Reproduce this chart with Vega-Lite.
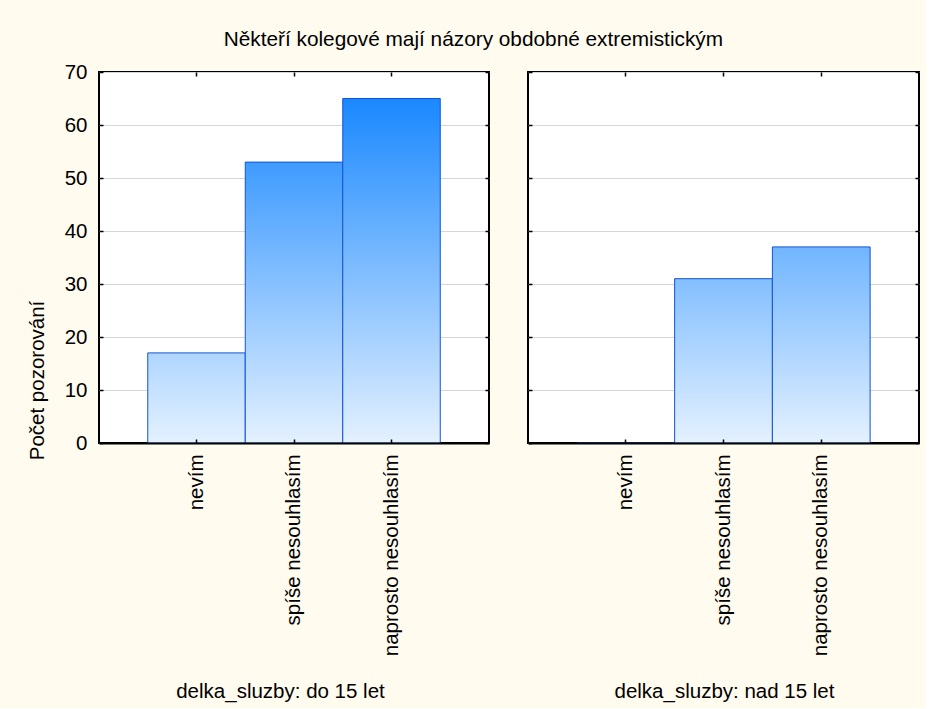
{
  "$schema": "https://vega.github.io/schema/vega-lite/v6.json",
  "padding": {"left": 26, "top": 29, "right": 5, "bottom": 5},
  "title": {"text": "Někteří kolegové mají názory obdobné extremistickým", "fontSize": 20.8, "font": "Liberation Sans", "fontWeight": "normal", "color": "#000", "anchor": "middle", "offset": 10},
  "data": {"values": [
    {"delka": "do 15 let", "kategorie": "nevím", "pocet": 17},
    {"delka": "do 15 let", "kategorie": "spíše nesouhlasím", "pocet": 53},
    {"delka": "do 15 let", "kategorie": "naprosto nesouhlasím", "pocet": 65},
    {"delka": "nad 15 let", "kategorie": "nevím", "pocet": 0},
    {"delka": "nad 15 let", "kategorie": "spíše nesouhlasím", "pocet": 31},
    {"delka": "nad 15 let", "kategorie": "naprosto nesouhlasím", "pocet": 37}
  ]},
  "spacing": 35,
  "hconcat": [
    {
      "width": 390, "height": 371,
      "transform": [{"filter": "datum.delka == 'do 15 let'"}],
      "layer": [
        {
          "transform": [{"filter": "datum.kategorie == 'nevím'"}],
          "mark": {"type": "bar", "stroke": "#1254d4", "strokeWidth": 1, "fill": {"gradient": "linear", "x1": 0, "y1": 0, "x2": 0, "y2": 1, "stops": [{"offset": 0, "color": "#afd6ff"}, {"offset": 1, "color": "#e4f1ff"}]}},
          "encoding": {
            "x": {"field": "kategorie", "type": "nominal", "scale": {"domain": ["nevím", "spíše nesouhlasím", "naprosto nesouhlasím"], "paddingInner": 0, "paddingOuter": 0.5},
              "axis": {"orient": "bottom", "domain": true, "domainColor": "#000", "domainWidth": 2, "tickSize": -4, "tickColor": "#000", "tickWidth": 1.5, "labelAngle": -90, "labelPadding": 15, "labelLimit": 400, "labelFontSize": 20.5, "labelColor": "#000", "labelFont": "Liberation Sans", "title": "delka_sluzby: do 15 let", "titleFont": "Liberation Sans", "titleFontSize": 20.5, "titleFontWeight": "normal", "titleColor": "#000", "titleX": 181, "titleY": 248, "titleAlign": "center", "titleBaseline": "middle", "zindex": 1}},
            "y": {"field": "pocet", "type": "quantitative", "scale": {"domain": [0, 70], "nice": false},
              "axis": {"orient": "left", "values": [0, 10, 20, 30, 40, 50, 60, 70], "grid": true, "gridColor": "#d6d6d6", "gridWidth": 1, "domain": false, "tickSize": -4, "tickColor": "#000", "tickWidth": 1.5, "labelPadding": 16, "labelFontSize": 20.5, "labelColor": "#000", "labelFont": "Liberation Sans", "title": "Počet pozorování", "titleFont": "Liberation Sans", "titleFontSize": 20.5, "titleFontWeight": "normal", "titleColor": "#000", "titleX": -62, "titleY": 308, "titleAngle": -90, "titleAlign": "center", "titleBaseline": "middle", "zindex": 0}}
          }
        },
        {
          "transform": [{"filter": "datum.kategorie == 'spíše nesouhlasím'"}],
          "mark": {"type": "bar", "stroke": "#1254d4", "strokeWidth": 1, "fill": {"gradient": "linear", "x1": 0, "y1": 0, "x2": 0, "y2": 1, "stops": [{"offset": 0, "color": "#3f9bff"}, {"offset": 1, "color": "#e4f1ff"}]}},
          "encoding": {
            "x": {"field": "kategorie", "type": "nominal", "scale": {"domain": ["nevím", "spíše nesouhlasím", "naprosto nesouhlasím"], "paddingInner": 0, "paddingOuter": 0.5}, "axis": null},
            "y": {"field": "pocet", "type": "quantitative", "scale": {"domain": [0, 70], "nice": false}, "axis": null}
          }
        },
        {
          "transform": [{"filter": "datum.kategorie == 'naprosto nesouhlasím'"}],
          "mark": {"type": "bar", "stroke": "#1254d4", "strokeWidth": 1, "fill": {"gradient": "linear", "x1": 0, "y1": 0, "x2": 0, "y2": 1, "stops": [{"offset": 0, "color": "#1a88ff"}, {"offset": 1, "color": "#e4f1ff"}]}},
          "encoding": {
            "x": {"field": "kategorie", "type": "nominal", "scale": {"domain": ["nevím", "spíše nesouhlasím", "naprosto nesouhlasím"], "paddingInner": 0, "paddingOuter": 0.5}, "axis": null},
            "y": {"field": "pocet", "type": "quantitative", "scale": {"domain": [0, 70], "nice": false}, "axis": null}
          }
        },
        {
          "mark": {"type": "bar", "opacity": 0},
          "encoding": {
            "x": {"field": "kategorie", "type": "nominal", "scale": {"domain": ["nevím", "spíše nesouhlasím", "naprosto nesouhlasím"], "paddingInner": 0, "paddingOuter": 0.5},
              "axis": {"orient": "top", "domain": false, "labels": false, "title": null, "tickSize": -4, "tickColor": "#000", "tickWidth": 1.5, "zindex": 1}},
            "y": {"field": "pocet", "type": "quantitative", "scale": {"domain": [0, 70], "nice": false},
              "axis": {"orient": "right", "values": [0, 10, 20, 30, 40, 50, 60, 70], "grid": false, "domain": false, "labels": false, "title": null, "tickSize": -4, "tickColor": "#000", "tickWidth": 1.5, "zindex": 1}}
          }
        }
      ],
      "resolve": {"axis": {"x": "independent", "y": "independent"}}
    },
    {
      "width": 391, "height": 371,
      "transform": [{"filter": "datum.delka == 'nad 15 let'"}],
      "layer": [
        {
          "transform": [{"filter": "datum.kategorie == 'nevím'"}],
          "mark": {"type": "bar", "stroke": "#1254d4", "strokeWidth": 1, "fill": {"gradient": "linear", "x1": 0, "y1": 0, "x2": 0, "y2": 1, "stops": [{"offset": 0, "color": "#e4f1ff"}, {"offset": 1, "color": "#e4f1ff"}]}},
          "encoding": {
            "x": {"field": "kategorie", "type": "nominal", "scale": {"domain": ["nevím", "spíše nesouhlasím", "naprosto nesouhlasím"], "paddingInner": 0, "paddingOuter": 0.5},
              "axis": {"orient": "bottom", "domain": true, "domainColor": "#000", "domainWidth": 2, "tickSize": -4, "tickColor": "#000", "tickWidth": 1.5, "labelAngle": -90, "labelPadding": 15, "labelLimit": 400, "labelFontSize": 20.5, "labelColor": "#000", "labelFont": "Liberation Sans", "title": "delka_sluzby: nad 15 let", "titleFont": "Liberation Sans", "titleFontSize": 20.5, "titleFontWeight": "normal", "titleColor": "#000", "titleX": 196, "titleY": 248, "titleAlign": "center", "titleBaseline": "middle", "zindex": 1}},
            "y": {"field": "pocet", "type": "quantitative", "scale": {"domain": [0, 70], "nice": false},
              "axis": {"orient": "left", "values": [0, 10, 20, 30, 40, 50, 60, 70], "grid": true, "gridColor": "#d6d6d6", "gridWidth": 1, "domain": false, "labels": false, "title": null, "tickSize": -4, "tickColor": "#000", "tickWidth": 1.5, "zindex": 0}}
          }
        },
        {
          "transform": [{"filter": "datum.kategorie == 'spíše nesouhlasím'"}],
          "mark": {"type": "bar", "stroke": "#1254d4", "strokeWidth": 1, "fill": {"gradient": "linear", "x1": 0, "y1": 0, "x2": 0, "y2": 1, "stops": [{"offset": 0, "color": "#84bfff"}, {"offset": 1, "color": "#e4f1ff"}]}},
          "encoding": {
            "x": {"field": "kategorie", "type": "nominal", "scale": {"domain": ["nevím", "spíše nesouhlasím", "naprosto nesouhlasím"], "paddingInner": 0, "paddingOuter": 0.5}, "axis": null},
            "y": {"field": "pocet", "type": "quantitative", "scale": {"domain": [0, 70], "nice": false}, "axis": null}
          }
        },
        {
          "transform": [{"filter": "datum.kategorie == 'naprosto nesouhlasím'"}],
          "mark": {"type": "bar", "stroke": "#1254d4", "strokeWidth": 1, "fill": {"gradient": "linear", "x1": 0, "y1": 0, "x2": 0, "y2": 1, "stops": [{"offset": 0, "color": "#71b5ff"}, {"offset": 1, "color": "#e4f1ff"}]}},
          "encoding": {
            "x": {"field": "kategorie", "type": "nominal", "scale": {"domain": ["nevím", "spíše nesouhlasím", "naprosto nesouhlasím"], "paddingInner": 0, "paddingOuter": 0.5}, "axis": null},
            "y": {"field": "pocet", "type": "quantitative", "scale": {"domain": [0, 70], "nice": false}, "axis": null}
          }
        },
        {
          "mark": {"type": "bar", "opacity": 0},
          "encoding": {
            "x": {"field": "kategorie", "type": "nominal", "scale": {"domain": ["nevím", "spíše nesouhlasím", "naprosto nesouhlasím"], "paddingInner": 0, "paddingOuter": 0.5},
              "axis": {"orient": "top", "domain": false, "labels": false, "title": null, "tickSize": -4, "tickColor": "#000", "tickWidth": 1.5, "zindex": 1}},
            "y": {"field": "pocet", "type": "quantitative", "scale": {"domain": [0, 70], "nice": false},
              "axis": {"orient": "right", "values": [0, 10, 20, 30, 40, 50, 60, 70], "grid": false, "domain": false, "labels": false, "title": null, "tickSize": -4, "tickColor": "#000", "tickWidth": 1.5, "zindex": 1}}
          }
        }
      ],
      "resolve": {"axis": {"x": "independent", "y": "independent"}}
    }
  ],
  "config": {
    "background": "#fffbef",
    "font": "Liberation Sans",
    "view": {"stroke": "#000", "strokeWidth": 2, "fill": "#ffffff"}
  }
}
